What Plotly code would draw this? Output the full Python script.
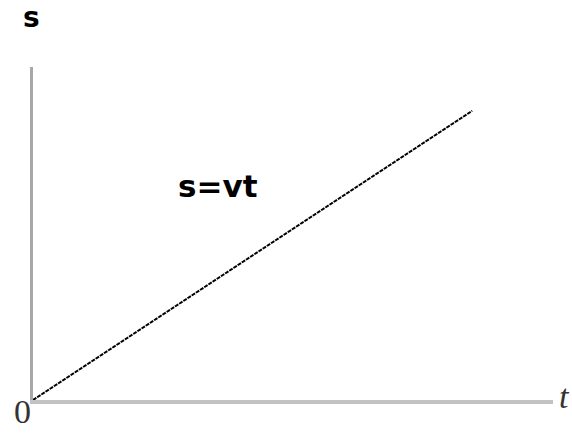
import plotly.graph_objects as go

# uniform motion: distance grows linearly with time
t_vals = [0, 10]
v = 0.66
s_vals = [v * t for t in t_vals]

fig = go.Figure()
fig.add_trace(go.Scatter(
    x=t_vals, y=s_vals, mode="lines",
    line=dict(color="black", width=2, dash="4px,1px"),
    hoverinfo="skip", showlegend=False,
))

fig.update_layout(
    width=572, height=433,
    margin=dict(l=33, r=19, t=67, b=33),
    paper_bgcolor="white", plot_bgcolor="white",
    xaxis=dict(range=[0, 11.84], showgrid=False, zeroline=False,
               showticklabels=False, ticks="",
               showline=True, linecolor="#c2c2c2", linewidth=4),
    yaxis=dict(range=[0, 7.6], showgrid=False, zeroline=False,
               showticklabels=False, ticks="",
               showline=True, linecolor="#a8a8a8", linewidth=3),
    annotations=[
        dict(text="<b>s</b>", x=0.0, y=1.0, xref="paper", yref="paper",
             xanchor="center", yanchor="middle",
             xshift=-2, yshift=50, showarrow=False,
             font=dict(family="DejaVu Sans", size=28, color="black")),
        dict(text="<i>t</i>", x=1.0, y=0.0, xref="paper", yref="paper",
             xanchor="center", yanchor="middle",
             xshift=11, yshift=4, showarrow=False,
             font=dict(family="Liberation Serif", size=34, color="#333")),
        dict(text="0", x=0.0, y=0.0, xref="paper", yref="paper",
             xanchor="center", yanchor="bottom",
             xshift=-11, yshift=-32, showarrow=False,
             font=dict(family="Liberation Serif", size=34, color="#333")),
        dict(text="<b>s=vt</b>", x=4.22, y=4.88, xref="x", yref="y",
             xanchor="center", yanchor="middle", showarrow=False,
             font=dict(family="DejaVu Sans", size=31, color="black")),
    ],
)

fig.write_html("out.html")
